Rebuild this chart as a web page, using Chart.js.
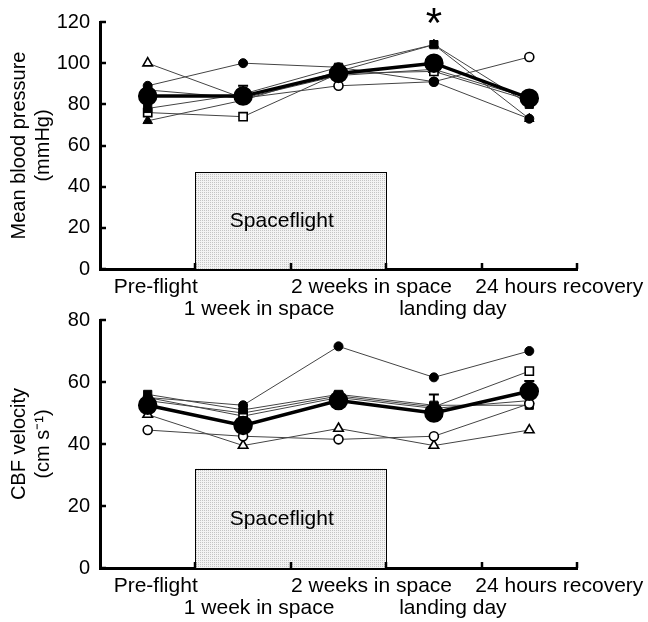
<!DOCTYPE html>
<html>
<head>
<meta charset="utf-8">
<script src="https://cdn.jsdelivr.net/npm/chart.js@4.4.0/dist/chart.umd.min.js"></script>
<style>
  html, body { margin: 0; padding: 0; background: #fff; }
  #wrap { position: relative; width: 648px; height: 622px; }
  canvas { position: absolute; left: 0; top: 0; }
</style>
</head>
<body>
<div id="wrap">
  <canvas id="mapChart" width="648" height="622"></canvas>
  <canvas id="cbfChart" width="648" height="622"></canvas>
</div>
<script>
const categories = ['Pre-flight', '1 week in space', '2 weeks in space', 'landing day', '24 hours recovery'];

// Mean blood pressure (mmHg)
const mapTicks = [0, 20, 40, 60, 80, 100, 120];
const mapMean = [84, 84, 95, 100, 83];
const mapSE = [2, 5, 4, 3, 3];
const mapFilledCircle = [89, 100, 98, 91, 73];
const mapOpenCircle = [87, 83, 89, 91, 103];
const mapFilledSquare = [78, 85, 98, 109, 80];
const mapOpenSquare = [76, 74, 95, 96, 82];
const mapFilledTriangle = [72, 82, 96, 109, 73];
const mapOpenTriangle = [100, 83, 94, 97, 83];
const mapStars = ['', '', '', '*', ''];

// CBF velocity (cm/s)
const cbfTicks = [0, 20, 40, 60, 80];
const cbfMean = [52.5, 46, 54, 50, 57];
const cbfSE = [2, 2.5, 2.5, 6, 3.3];
const cbfFilledCircle = [55, 52.5, 71.5, 61.5, 70];
const cbfOpenCircle = [44.5, 42.5, 41.5, 42.5, 53];
const cbfFilledSquare = [56, 51, 56, 52.5, 52.5];
const cbfOpenSquare = [54, 50, 55.5, 52, 63.5];
const cbfFilledTriangle = [55, 49, 55, 51.5, 54];
const cbfOpenTriangle = [49.5, 39.5, 45, 39.5, 44.5];
const cbfStars = ['', '', '', '', ''];

// spaceflight period: between category 0.5 and 2.5
const spaceflightSpan = [0.5, 2.5];
const mapSpaceflightTop = 47;
const cbfSpaceflightTop = 32;

// the original figure nudges its category labels to the right a bit (px)
const labelShift = [8, 16, 33, 19, 30];

const FONT = '"Liberation Sans", Arial, sans-serif';
Chart.defaults.font.family = FONT;
Chart.defaults.color = '#000';

// light stipple fill for the spaceflight box
function stipple() {
  const c = document.createElement('canvas');
  c.width = 2; c.height = 2;
  const g = c.getContext('2d');
  g.fillStyle = '#f3f3f3';
  g.fillRect(0, 0, 2, 2);
  g.fillStyle = '#c4c4c4';
  g.fillRect(0, 0, 1, 1);
  return g.createPattern(c, 'repeat');
}

function subject(data, style, filled) {
  const radius = style === 'rect' ? 5.8 : (style === 'triangle' ? 5.5 : 4.5);
  return {
    data: data,
    pointStyle: style,
    pointRadius: radius,
    pointBackgroundColor: filled ? '#000' : '#fff',
    pointBorderColor: '#000',
    pointBorderWidth: filled ? 1 : 1.6,
    borderColor: '#444',
    borderWidth: 1,
    tension: 0,
    fill: false,
    order: 1
  };
}

function meanSet(data, se) {
  return {
    data: data,
    se: se,
    pointStyle: 'circle',
    pointRadius: 8,
    pointBackgroundColor: '#000',
    pointBorderColor: '#000',
    borderColor: '#000',
    borderWidth: 3.5,
    tension: 0,
    fill: false,
    order: 0
  };
}

const decorPlugin = {
  id: 'decor',
  beforeDatasetsDraw(chart, args, opts) {
    const ctx = chart.ctx;
    const x = chart.scales.x, y = chart.scales.y;
    const x1 = x.getPixelForValue(spaceflightSpan[0]);
    const x2 = x.getPixelForValue(spaceflightSpan[1]);
    const yTop = y.getPixelForValue(opts.boxTop);
    const yBot = y.getPixelForValue(0);
    ctx.save();
    ctx.fillStyle = stipple();
    ctx.fillRect(x1, yTop, x2 - x1, yBot - yTop);
    ctx.strokeStyle = '#000';
    ctx.lineWidth = 1;
    ctx.strokeRect(Math.round(x1) + 0.5, Math.round(yTop) + 0.5, Math.round(x2 - x1), Math.round(yBot - yTop));
    ctx.fillStyle = '#000';
    ctx.font = '21px ' + FONT;
    ctx.textAlign = 'center';
    ctx.textBaseline = 'middle';
    ctx.fillText('Spaceflight', (x1 + x2) / 2 - 9, (yTop + yBot) / 2 + 1);
    ctx.restore();
  },
  afterDraw(chart, args, opts) {
    const ctx = chart.ctx;
    const x = chart.scales.x, y = chart.scales.y;
    const area = chart.chartArea;
    ctx.save();
    ctx.strokeStyle = '#000';
    ctx.lineWidth = 2.5;
    // inward tick marks on y axis
    y.ticks.forEach(t => {
      const py = Math.round(y.getPixelForValue(t.value));
      ctx.beginPath();
      ctx.moveTo(area.left, py);
      ctx.lineTo(area.left + 6, py);
      ctx.stroke();
    });
    // inward tick marks on x axis at category boundaries
    const n = chart.data.labels.length;
    for (let i = 1; i <= n; i++) {
      const px = Math.round(x.getPixelForValue(i - 0.5));
      ctx.beginPath();
      ctx.moveTo(px, area.bottom);
      ctx.lineTo(px, area.bottom - 6);
      ctx.stroke();
    }
    // staggered category labels
    ctx.fillStyle = '#000';
    ctx.font = '21px ' + FONT;
    ctx.textAlign = 'center';
    ctx.textBaseline = 'alphabetic';
    chart.data.labels.forEach((lab, i) => {
      const py = area.bottom + (i % 2 ? 46 : 24);
      ctx.fillText(lab, x.getPixelForValue(i) + labelShift[i], py);
    });
    // significance markers
    ctx.font = '42px ' + FONT;
    opts.stars.forEach((s, i) => {
      if (!s) return;
      const m = ctx.measureText(s);
      const base = opts.starY + (m.actualBoundingBoxAscent - m.actualBoundingBoxDescent) / 2;
      ctx.fillText(s, x.getPixelForValue(i), base);
    });
    ctx.restore();
  }
};

const errorBarPlugin = {
  id: 'errorBars',
  afterDatasetsDraw(chart) {
    const ctx = chart.ctx;
    const x = chart.scales.x, y = chart.scales.y;
    ctx.save();
    ctx.strokeStyle = '#000';
    ctx.lineWidth = 2;
    chart.data.datasets.forEach(ds => {
      if (!ds.se) return;
      ds.data.forEach((v, i) => {
        const px = x.getPixelForValue(i);
        const top = y.getPixelForValue(v + ds.se[i]);
        const mid = y.getPixelForValue(v);
        ctx.beginPath();
        ctx.moveTo(px, mid);
        ctx.lineTo(px, top);
        ctx.moveTo(px - 5, top);
        ctx.lineTo(px + 5, top);
        ctx.stroke();
      });
    });
    ctx.restore();
  }
};

function makeChart(id, cfg) {
  return new Chart(document.getElementById(id), {
    type: 'line',
    data: {
      labels: categories,
      datasets: [
        meanSet(cfg.mean, cfg.se),
        subject(cfg.filledCircle, 'circle', true),
        subject(cfg.openCircle, 'circle', false),
        subject(cfg.filledSquare, 'rect', true),
        subject(cfg.openSquare, 'rect', false),
        subject(cfg.filledTriangle, 'triangle', true),
        subject(cfg.openTriangle, 'triangle', false)
      ]
    },
    options: {
      responsive: false,
      animation: false,
      events: [],
      layout: { padding: { left: 0, right: 71, top: cfg.padTop, bottom: cfg.padBottom } },
      plugins: {
        legend: { display: false },
        tooltip: { enabled: false },
        decor: { boxTop: cfg.boxTop, stars: cfg.stars, starY: 15.5 }
      },
      scales: {
        x: {
          type: 'category',
          offset: true,
          z: 1,
          grid: { display: false, drawTicks: false },
          border: { display: true, width: 3, color: '#000' },
          ticks: { display: false },
          afterFit: s => { s.height = 54; }
        },
        y: {
          min: cfg.ticks[0],
          max: cfg.ticks[cfg.ticks.length - 1],
          z: 1,
          grid: { display: false, drawTicks: false },
          border: { display: true, width: 3, color: '#000' },
          ticks: { padding: 10, font: { size: 20 } },
          afterBuildTicks: s => { s.ticks = cfg.ticks.map(v => ({ value: v })); },
          title: {
            display: true,
            text: cfg.title,
            font: { size: 20, lineHeight: 1.2 },
            padding: { top: 7, bottom: 0 }
          },
          afterFit: s => { s.width = 100; }
        }
      }
    },
    plugins: [decorPlugin, errorBarPlugin]
  });
}

makeChart('mapChart', {
  mean: mapMean, se: mapSE,
  filledCircle: mapFilledCircle, openCircle: mapOpenCircle,
  filledSquare: mapFilledSquare, openSquare: mapOpenSquare,
  filledTriangle: mapFilledTriangle, openTriangle: mapOpenTriangle,
  ticks: mapTicks, stars: mapStars, boxTop: mapSpaceflightTop,
  title: ['Mean blood pressure', '(mmHg)'],
  padTop: 20, padBottom: 622 - 269 - 54
});

makeChart('cbfChart', {
  mean: cbfMean, se: cbfSE,
  filledCircle: cbfFilledCircle, openCircle: cbfOpenCircle,
  filledSquare: cbfFilledSquare, openSquare: cbfOpenSquare,
  filledTriangle: cbfFilledTriangle, openTriangle: cbfOpenTriangle,
  ticks: cbfTicks, stars: cbfStars, boxTop: cbfSpaceflightTop,
  title: ['CBF velocity', '(cm s\u207B\u00B9)'],
  padTop: 320, padBottom: 0
});
</script>
</body>
</html>
